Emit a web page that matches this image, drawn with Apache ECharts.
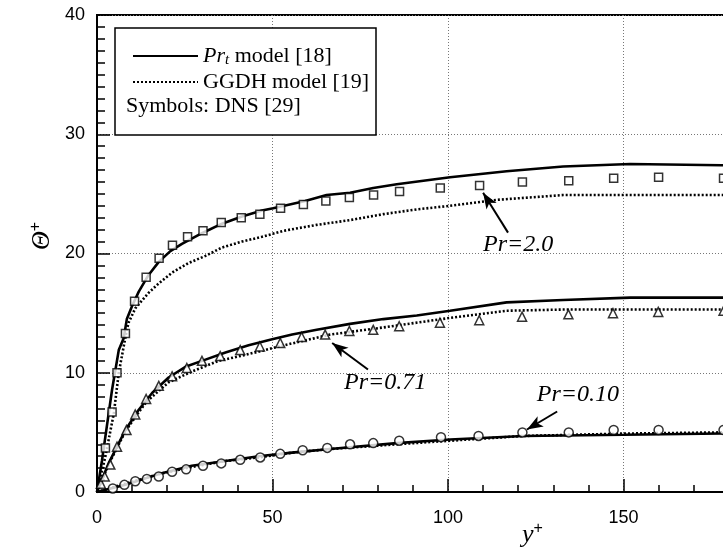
<!DOCTYPE html>
<html>
<head>
<meta charset="utf-8">
<script src="https://cdn.jsdelivr.net/npm/echarts@6/dist/echarts.min.js"></script>
<style>
    html, body { margin: 0; padding: 0; background: #fff; }
    #report { width: 723px; height: 547px; }
</style>
</head>
<body>
<div id="report"></div>
<script type="text/javascript">
    // Pr=2.0
    var pr20Prt = [[0,0],[1.4,2.6],[2.8,5.5],[4.3,8.6],[6.2,11.9],[7.6,12.9],[8.5,14.5],[10,15.6],[11.9,16.8],[14.7,18.2],[17.6,19.3],[20.9,20.2],[24.2,20.8],[29.9,21.7],[35.6,22.5],[41.3,23.1],[47,23.6],[50.2,23.8],[59.3,24.4],[65.4,24.9],[72.1,25.1],[78.7,25.5],[85.4,25.8],[93,26.1],[100.6,26.4],[116.7,26.9],[132.8,27.3],[151.9,27.5],[178,27.4],[200,27.4]];
    var pr20Ggdh = [[0,0],[2.4,3.0],[4.8,6.6],[6.2,10.0],[8.5,13.6],[9,14.2],[10.9,15.4],[14.7,16.7],[17.6,17.5],[21.4,18.4],[26.1,19.2],[30.9,19.8],[35.6,20.5],[41.3,21.0],[47,21.4],[53.1,21.9],[62.6,22.4],[72.1,22.8],[81.6,23.3],[91.1,23.7],[100.6,24.0],[113.9,24.5],[132.8,24.9],[151.9,24.9],[178,24.9],[200,24.9]];
    var pr20Dns = [[2.4,3.7],[4.3,6.7],[5.7,10.0],[8.1,13.3],[10.7,16.0],[14.0,18.0],[17.7,19.6],[21.5,20.7],[25.8,21.4],[30.2,21.9],[35.4,22.6],[41.1,23.0],[46.4,23.3],[52.3,23.8],[58.8,24.1],[65.2,24.4],[71.9,24.7],[78.8,24.9],[86.2,25.2],[97.8,25.5],[109.0,25.7],[121.2,26.0],[134.4,26.1],[147.2,26.3],[160.0,26.4],[178.5,26.3]];

    // Pr=0.71
    var pr071Prt = [[0,0],[3.3,2.4],[8.1,5.2],[11.9,6.9],[15.7,8.3],[20.4,9.6],[25.2,10.5],[30.9,11.1],[36.6,11.7],[43.2,12.3],[49.9,12.8],[55.6,13.2],[62.6,13.6],[72.1,14.1],[81.6,14.5],[91.1,14.8],[100.6,15.2],[116.7,15.9],[132.8,16.1],[151.9,16.3],[178,16.3],[200,16.3]];
    var pr071Ggdh = [[0,0],[3.3,2.3],[8.1,5.1],[11.9,6.7],[14.2,7.6],[20.4,9.2],[27,10.1],[34.7,11.0],[42.3,11.5],[51.8,12.2],[66.4,13.2],[81.6,13.8],[100.6,14.6],[116.7,15.2],[132.8,15.3],[178,15.3],[200,15.3]];
    var pr071Dns = [[1.1,0.7],[2.2,1.3],[3.8,2.3],[5.7,3.8],[8.4,5.2],[10.9,6.5],[14,7.8],[17.6,8.9],[21.4,9.7],[25.6,10.4],[29.9,11.0],[35.1,11.4],[40.8,11.9],[46.4,12.2],[52.2,12.5],[58.3,13.0],[65,13.2],[71.9,13.5],[78.7,13.6],[86.1,13.9],[97.7,14.2],[108.9,14.4],[121.1,14.7],[134.3,14.9],[147,15.0],[159.9,15.1],[178.5,15.2]];

    // Pr=0.10
    var pr010Prt = [[0,0],[8.1,0.6],[17.6,1.5],[27,2.2],[36.6,2.6],[46.1,3.0],[55.6,3.3],[66.4,3.6],[85.4,4.1],[100.6,4.4],[121.5,4.7],[150,4.8],[178,4.9],[200,4.9]];
    var pr010Ggdh = [[0,0],[8.1,0.7],[17.6,1.5],[27,2.1],[36.6,2.6],[46.1,2.9],[55.6,3.3],[66.4,3.6],[85.4,4.0],[100.6,4.3],[121.5,4.7],[150,4.9],[178,5.0],[200,5.0]];
    var pr010Dns = [[4.5,0.3],[7.8,0.6],[10.9,0.9],[14.2,1.1],[17.6,1.3],[21.4,1.7],[25.4,1.9],[30.2,2.2],[35.4,2.4],[40.8,2.7],[46.5,2.9],[52.2,3.2],[58.6,3.5],[65.6,3.7],[72.1,4.0],[78.7,4.1],[86.1,4.3],[98,4.6],[108.7,4.7],[121.2,5.0],[134.4,5.0],[147.2,5.2],[160,5.2],[178.5,5.2]];

    // annotations (data coords)
    var noteText = ['Pr=2.0', 'Pr=0.71', 'Pr=0.10'];
    var notePos = [[120, 20.75], [82.1, 9.2], [137, 8.2]];
    var arrowFrom = [[117.1, 21.75], [77.2, 10.27], [131.1, 6.75]];
    var arrowTo = [[110, 25.1], [67, 12.5], [122.5, 5.24]];

    var serif = 'Liberation Serif';
    var sans = 'Liberation Sans';

    function lineSeries(name, data, dotted) {
        return {
            name: name,
            type: 'line',
            data: data,
            symbol: 'none',
            z: 3,
            lineStyle: { color: '#000', width: 2.6, type: dotted ? [2, 2] : 'solid' },
            itemStyle: { color: '#000' }
        };
    }

    function dnsSeries(data, symbol, size, i) {
        return {
            name: 'DNS',
            type: 'scatter',
            data: data,
            symbol: symbol,
            symbolSize: size,
            z: 4,
            itemStyle: { color: '#fff', borderColor: '#000', borderWidth: 1.5 },
            markLine: {
                silent: true,
                symbol: ['none', 'arrow'],
                symbolSize: [9, 16],
                label: { show: false },
                lineStyle: { color: '#000', width: 2, type: 'solid' },
                data: [[{ coord: arrowFrom[i] }, { coord: arrowTo[i] }]]
            },
            markPoint: {
                silent: true,
                symbol: 'circle',
                symbolSize: 0,
                label: {
                    show: true, position: 'inside', formatter: '{b}',
                    fontFamily: serif, fontStyle: 'italic', fontSize: 24, color: '#000'
                },
                data: [{ name: noteText[i], coord: notePos[i] }]
            }
        };
    }

    var option = {
        animation: false,
        backgroundColor: '#fff',
        grid: {
            left: 97, top: 15, width: 702, height: 477,
            outerBoundsMode: 'none',
            containLabel: false,
            show: true, borderColor: '#000', borderWidth: 2, backgroundColor: 'transparent'
        },
        legend: {
            data: ['Prt model [18]', 'GGDH model [19]'],
            orient: 'vertical',
            left: 127, top: 40,
            itemWidth: 65, itemHeight: 14, itemGap: 3,
            selectedMode: false,
            z: 20,
            itemStyle: { color: 'rgba(0,0,0,0)', borderWidth: 0, opacity: 0 },
            formatter: function (name) {
                if (name.indexOf('Prt') === 0) {
                    return '{i|Pr}{s|t}{n| model [18]}';
                }
                return '{n|' + name + '}';
            },
            textStyle: {
                color: '#000', fontFamily: serif, fontSize: 22,
                rich: {
                    i: { fontFamily: serif, fontStyle: 'italic', fontSize: 22, color: '#000', lineHeight: 24 },
                    s: { fontFamily: serif, fontStyle: 'italic', fontSize: 15, color: '#000', lineHeight: 13, verticalAlign: 'bottom' },
                    n: { fontFamily: serif, fontSize: 22, color: '#000', lineHeight: 24 }
                }
            }
        },
        graphic: [
            {
                type: 'rect', z: 10,
                shape: { x: 115, y: 28, width: 261, height: 107 },
                style: { fill: '#fff', stroke: '#000', lineWidth: 1.5 }
            },
            {
                type: 'text', z: 20,
                style: { x: 126, y: 106, verticalAlign: 'middle', text: 'Symbols: DNS [29]', font: '22px "Liberation Serif"', fill: '#000' }
            },
            {
                // y axis title, rotated
                type: 'text', z: 20,
                x: 42, y: 236, rotation: Math.PI / 2,
                style: {
                    x: 0, y: 0, align: 'center', verticalAlign: 'middle',
                    text: '{t|Θ}{p|+}',
                    rich: {
                        t: { fontFamily: serif, fontStyle: 'italic', fontSize: 26, color: '#000', lineHeight: 28 },
                        p: { fontFamily: sans, fontSize: 16, color: '#000', lineHeight: 14, verticalAlign: 'top' }
                    }
                }
            },
            {
                type: 'text', z: 20,
                style: {
                    x: 522, y: 521,
                    text: '{a|y}{b|+}',
                    rich: {
                        a: { fontFamily: serif, fontStyle: 'italic', fontSize: 26, color: '#000', lineHeight: 28 },
                        b: { fontFamily: sans, fontSize: 16, color: '#000', lineHeight: 14, verticalAlign: 'top' }
                    }
                }
            }
        ],
        xAxis: {
            type: 'value',
            min: 0, max: 200, interval: 50,
            axisLine: { show: true, lineStyle: { color: '#000', width: 2 } },
            axisTick: { show: true, inside: true, length: 13, lineStyle: { color: '#000', width: 1.5 } },
            minorTick: { show: true, splitNumber: 5, length: 7, lineStyle: { color: '#000', width: 1.5 } },
            axisLabel: { margin: 17, color: '#000', fontFamily: sans, fontSize: 18 },
            splitLine: { show: true, lineStyle: { color: '#777', width: 1, type: [1, 2] } }
        },
        yAxis: {
            type: 'value',
            min: 0, max: 40, interval: 10,
            axisLine: { show: true, lineStyle: { color: '#000', width: 2 } },
            axisTick: { show: true, inside: true, length: 13, lineStyle: { color: '#000', width: 1.5 } },
            minorTick: { show: true, splitNumber: 10, length: 8, lineStyle: { color: '#000', width: 1.5 } },
            axisLabel: { margin: 12, color: '#000', fontFamily: sans, fontSize: 18 },
            splitLine: { show: true, lineStyle: { color: '#777', width: 1, type: [1, 2] } }
        },
        series: [
            lineSeries('Prt model [18]', pr20Prt, false),
            lineSeries('GGDH model [19]', pr20Ggdh, true),
            dnsSeries(pr20Dns, 'rect', 8, 0),
            lineSeries('Prt model [18]', pr071Prt, false),
            lineSeries('GGDH model [19]', pr071Ggdh, true),
            dnsSeries(pr071Dns, 'triangle', 9, 1),
            lineSeries('Prt model [18]', pr010Prt, false),
            lineSeries('GGDH model [19]', pr010Ggdh, true),
            dnsSeries(pr010Dns, 'circle', 9, 2)
        ]
    };

    var myChart = echarts.init(document.getElementById('report'));
    myChart.setOption(option);
</script>
</body>
</html>
